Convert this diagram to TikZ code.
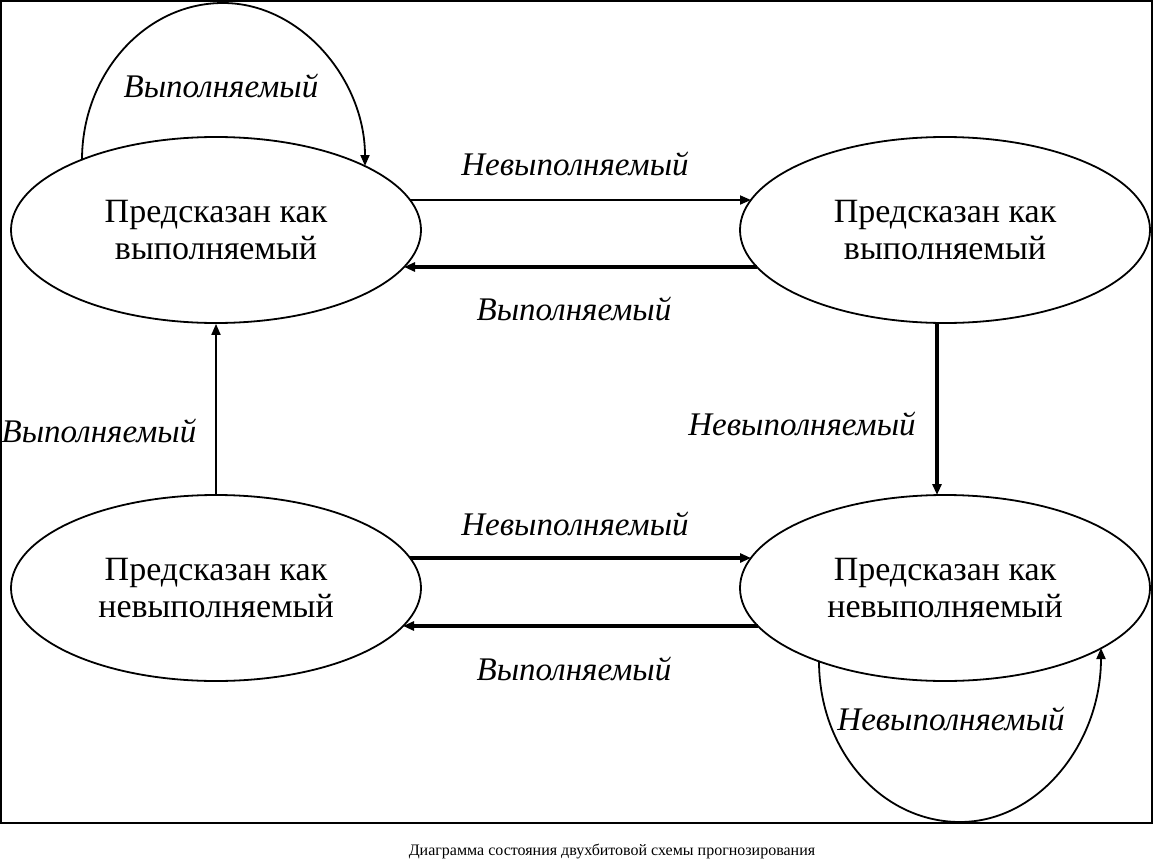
\documentclass[tikz,border=0pt]{standalone}
\usepackage{fontspec}
\setmainfont{Liberation Serif}
\usetikzlibrary{arrows.meta,shapes.geometric,calc}
\begin{document}
\begin{tikzpicture}[x=1pt,y=-1pt,
  state/.style={ellipse,draw,line width=1.8pt,minimum width=410pt,minimum height=186pt,
    inner sep=0pt,align=center,font=\fontsize{34}{37}\selectfont},
  lbl/.style={anchor=base,inner sep=0pt,font=\fontsize{33}{38}\selectfont\itshape},
  thinarr/.style={line width=1.8pt,-{Triangle[length=11pt,width=9pt]}},
  thickarr/.style={line width=3.4pt,-{Triangle[length=11pt,width=9pt]}}]
\useasboundingbox (0,0) rectangle (1160,859);
\draw[line width=2pt] (1,1) rectangle (1152,823);
\node[state] (tl) at (216,230) {Предсказан как\\выполняемый};
\node[state] (tr) at (945,230) {Предсказан как\\выполняемый};
\node[state] (bl) at (216,588) {Предсказан как\\невыполняемый};
\node[state] (br) at (945,588) {Предсказан как\\невыполняемый};
\draw[thinarr] ($(tl.center)+(194,-30)$) -- ($(tr.center)+(-194,-30)$);
\draw[thickarr] ($(tr.center)+(-188,37)$) -- ($(tl.center)+(188,37)$);
\draw[thickarr] ($(bl.center)+(194,-30)$) -- ($(br.center)+(-194,-30)$);
\draw[thickarr] ($(br.center)+(-187,38)$) -- ($(bl.center)+(187,38)$);
\draw[thickarr] ($(tr.center)+(-8,93)$) -- ($(br.center)+(-8,-93)$);
\draw[thinarr] (bl.north) -- (tl.south);
\coordinate (looptop) at (223,3);
\coordinate (loopbot) at (960,822);
\draw[thinarr] ($(tl.center)+(-134,-70)$) .. controls +(0,-86) and +(-78,0) .. (looptop)
  .. controls +(78,0) and +(0,-86) .. ($(tl.center)+(149,-64)$);
\draw[thinarr] ($(br.center)+(-126,73)$) .. controls +(0,90) and +(-78,0) .. (loopbot)
  .. controls +(78,0) and +(0,96) .. ($(br.center)+(156,60)$);
\node[lbl] (l1) at (575,175) {Невыполняемый};
\node[lbl] (l2) at (574,320) {Выполняемый};
\node[lbl] (l3) at (575,535) {Невыполняемый};
\node[lbl] (l4) at (574,680) {Выполняемый};
\node[lbl] (l5) at (802,435) {Невыполняемый};
\node[lbl] (l6) at (99,442) {Выполняемый};
\node[lbl] (l7) at (221,97) {Выполняемый};
\node[lbl] (l8) at (951,730) {Невыполняемый};
\node[anchor=base,inner sep=0pt,font=\fontsize{16}{19}\selectfont] (cap) at (612,855)
  {Диаграмма состояния двухбитовой схемы прогнозирования};
\end{tikzpicture}
\end{document}
